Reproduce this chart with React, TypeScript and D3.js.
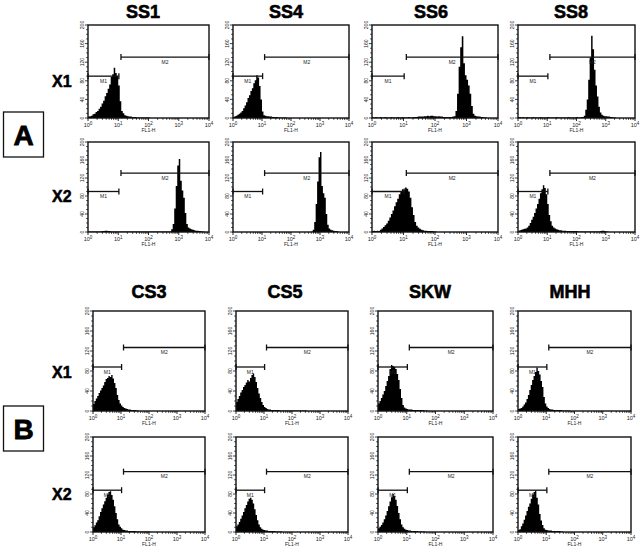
import * as d3 from 'd3'
import React from 'react'

// column titles and row labels
const topTitles = ['SS1', 'SS4', 'SS6', 'SS8']
const bottomTitles = ['CS3', 'CS5', 'SKW', 'MHH']
const rowNames = ['X1', 'X2']
const yTicks = [0, 40, 80, 120, 160, 200]
const xTickExps = [0, 1, 2, 3, 4]

// histogram channels: one bin every 0.05 decade, counts
const binStep = 0.05

const ss1X1 = [3, 4, 5, 8, 9, 13, 15, 20, 24, 31, 37, 47, 54, 63, 72, 88, 94, 108, 97, 90, 70, 36, 15, 10, 6, 5, 4, 3, 3, 2, 2, 2, 1, 1, 1, 1, 1, 1, 1, 1, 1]
const ss4X1 = [2, 4, 5, 7, 9, 12, 15, 21, 27, 34, 43, 49, 58, 64, 75, 81, 92, 87, 69, 40, 14, 6, 5, 4, 4, 3, 3, 2, 2, 2, 2, 1, 1, 1, 1, 1, 1]
const ss6X1 = [2, 1, 2, 1, 1, 2, 1, 1, 2, 1, 1, 1, 2, 1, 1, 1, 2, 1, 1, 2, 1, 1, 1, 2, 1, 1, 2, 2, 2, 3, 3, 3,
  3, 4, 4, 5, 4, 5, 5, 4, 4, 3, 4, 3, 3, 2, 2, 2, 2, 2, 2, 3,
  4, 15, 52, 110, 152, 176, 118, 92, 82, 70, 52, 26, 9, 5, 4, 3, 3, 2, 2, 1, 1]
const ss8X1 = [2, 2, 1, 2, 1, 1, 2, 1, 1, 1, 2, 1, 1, 1, 1, 2, 1, 1, 1, 1, 2, 1, 1, 1, 1, 1, 2, 1, 1, 1, 1, 1, 1, 1, 2, 1, 1, 1, 1, 1, 2, 1, 1, 2, 2,
  5, 18, 40, 82, 130, 177, 148, 104, 70, 46, 24, 12, 7, 5, 4, 4, 3, 3, 2, 2, 1, 1]
const ss1X2 = [1, 1, 1, 1, 1, 1, 1, 1, 1, 2, 2, 3, 3, 2, 2, 1, 1, 1, 1, 1, 1, 1, 1, 1, 1, 1, 1, 1, 1, 1, 1, 1, 1, 1, 1, 1, 1, 1, 1, 1, 1, 1, 1, 1, 1, 1, 1, 1, 1, 1, 1, 1, 1, 1, 1,
  6, 18, 52, 102, 148, 162, 114, 92, 76, 42, 18, 10, 8, 6, 5, 4, 3, 3, 2, 2, 1, 1]
const ss4X2 = [1, 5, 22, 62, 112, 166, 178, 102, 86, 76, 40, 16, 8, 5, 4, 3, 2, 2, 1]
const ss6X2 = [2, 3, 2, 3, 2, 5, 8, 11, 15, 19, 25, 32, 40, 48, 57, 66, 74, 84, 90, 95, 93, 99, 96, 90, 76, 55, 38, 22, 14, 10, 7, 5, 4, 3, 3, 2, 2, 2, 2, 1, 1]
const ss8X2 = [3, 4, 5, 6, 7, 8, 10, 14, 20, 27, 34, 42, 52, 62, 74, 86, 95, 104, 98, 84, 62, 38, 24, 14, 10, 8, 6, 5, 4, 4, 3, 3, 3, 2, 2, 2, 2, 2, 2, 2, 2,
  1, 1, 1, 1, 1, 1, 1, 1, 1, 1, 1, 1, 1, 1, 1, 2, 3, 3, 2, 1, 1]

const cs3X1 = [14, 20, 25, 30, 36, 41, 46, 51, 58, 64, 66, 70, 68, 72, 65, 56, 46, 32, 22, 15, 11, 8, 6, 5, 4, 3, 3, 2, 2, 2, 2, 1, 1]
const cs5X1 = [18, 24, 30, 37, 42, 48, 52, 57, 62, 59, 66, 72, 75, 68, 58, 46, 35, 26, 18, 12, 8, 6, 4, 3, 3, 2, 2, 2, 2, 2, 2, 1, 1, 1, 1, 1, 1, 1, 1, 1, 1, 1, 1, 1, 1, 1, 1, 1, 1, 1, 1]
const skwX1 = [15, 20, 26, 33, 40, 50, 60, 70, 84, 92, 90, 88, 84, 74, 62, 44, 26, 12, 7, 5, 4, 3, 3, 3, 2, 2, 2, 2, 2, 2, 2, 2, 1, 1, 1]
const mhhX1 = [4, 5, 6, 9, 13, 17, 24, 32, 42, 52, 62, 70, 78, 87, 80, 73, 60, 48, 28, 15, 9, 6, 4, 3, 3, 2, 2, 2, 2, 2, 2, 1, 1, 1, 1, 1, 1]
const cs3X2 = [10, 14, 20, 25, 33, 42, 50, 58, 65, 72, 79, 84, 86, 78, 68, 54, 40, 27, 16, 11, 8, 5, 4, 3, 3, 2, 2, 2, 2, 2, 2, 1, 1, 1, 1, 1, 1, 1, 1, 1, 1]
const cs5X2 = [12, 16, 21, 28, 35, 42, 50, 57, 64, 70, 72, 68, 60, 48, 36, 25, 16, 10, 7, 5, 4, 3, 3, 2, 2, 2, 2, 2, 1, 1, 1, 1, 1]
const skwX2 = [8, 11, 15, 20, 27, 35, 44, 54, 64, 73, 80, 76, 68, 55, 40, 27, 16, 10, 7, 5, 4, 3, 3, 2, 2, 2, 2, 2, 1, 1, 1, 1, 1]
const mhhX2 = [4, 6, 12, 18, 26, 35, 44, 53, 60, 70, 79, 84, 87, 72, 58, 38, 24, 15, 8, 5, 4, 3, 3, 3, 2, 2, 2, 2, 2, 2, 1, 1]

const histA = [[ss1X1, ss4X1, ss6X1, ss8X1], [ss1X2, ss4X2, ss6X2, ss8X2]]
const firstBinA = [[0, 0, 0, 0], [0, 54, 0, 0]]
const histB = [[cs3X1, cs5X1, skwX1, mhhX1], [cs3X2, cs5X2, skwX2, mhhX2]]
const firstBinB = [[0, 0, 0, 0], [0, 0, 0, 0]]

// gates (FL1-H range) and the count level they are drawn at
const m1Range = [1, 10.5]
const m2Range = [12.3, 10000]
const gateLevelA = [90, 131]
const gateLevelB = [88, 127]

// layout
const colsA = [[88, 209], [233, 349], [372, 498], [518, 635]]
const rowsA = [[25, 118], [142, 232]]
const colsB = [[93, 205], [236, 348], [378, 493], [518, 631]]
const rowsB = [[311, 411], [437, 532]]
const titleXA = [143, 286, 431, 571]
const titleXB = [149, 285, 430, 570]

const font = "'Liberation Sans', Arial, Helvetica, sans-serif"

function Panel(props: any) {
  const { left, right, top, bottom, counts, first, levels } = props
  const x = d3.scaleLog().domain([1, 10000]).range([left, right])
  const y = d3.scaleLinear().domain([0, 200]).range([bottom, top])

  const pts: [number, number][] = counts.map((c: number, i: number) => [Math.pow(10, (first + i) * binStep), c])
  pts.push([Math.pow(10, (first + counts.length) * binStep), 0])
  const area = d3.area<[number, number]>()
    .x(d => x(d[0]))
    .y0(bottom)
    .y1(d => y(d[1]))
    .curve(d3.curveStepAfter)

  const minorY = d3.range(0, 201, 10)
  const minorX: number[] = []
  for (let e = 0; e < 4; e++) for (let k = 2; k < 10; k++) minorX.push(k * Math.pow(10, e))

  const gates = [
    { r: m1Range, h: levels[0], name: 'M1' },
    { r: m2Range, h: levels[1], name: 'M2' },
  ]

  return (
    <g>
      <path d={area(pts) || ''} fill="#000" />
      <rect x={left} y={top} width={right - left} height={bottom - top} fill="none" stroke="#111" strokeWidth={1.4} />
      {minorY.map(v => (
        <line key={'y' + v} x1={left} x2={left - (v % 40 === 0 ? 3 : 1.8)} y1={y(v)} y2={y(v)} stroke="#111" strokeWidth={0.8} />
      ))}
      {minorX.map(v => (
        <line key={'x' + v} x1={x(v)} x2={x(v)} y1={bottom} y2={bottom + 1.8} stroke="#111" strokeWidth={0.8} />
      ))}
      {xTickExps.map(e => (
        <line key={'X' + e} x1={x(Math.pow(10, e))} x2={x(Math.pow(10, e))} y1={bottom} y2={bottom + 3} stroke="#111" strokeWidth={0.9} />
      ))}
      {yTicks.map(v => (
        <text key={'yl' + v} transform={`translate(${left - 4},${y(v)}) rotate(-90)`} textAnchor="middle"
          fontSize={5} fontFamily={font} fill="#222">{v}</text>
      ))}
      {xTickExps.map(e => (
        <text key={'xl' + e} x={x(Math.pow(10, e))} y={bottom + 9} textAnchor="middle" fontSize={5.5} fontFamily={font} fill="#222">
          10<tspan fontSize={4.5} dy={-2.5}>{e}</tspan>
        </text>
      ))}
      <text x={x(100)} y={bottom + 14} textAnchor="middle" fontSize={5} fontFamily={font} fill="#222">FL1-H</text>
      {gates.map(g => {
        const xa = x(g.r[0]), xb = x(g.r[1]), yy = y(g.h)
        return (
          <g key={g.name}>
            <line x1={xa} x2={xb} y1={yy} y2={yy} stroke="#111" strokeWidth={1.3} />
            <line x1={xa} x2={xa} y1={yy - 3} y2={yy + 3} stroke="#111" strokeWidth={1.3} />
            <line x1={xb} x2={xb} y1={yy - 3} y2={yy + 3} stroke="#111" strokeWidth={1.3} />
            <text x={(xa + xb) / 2} y={yy + 6.5} textAnchor="middle" fontSize={5} fontFamily={font} fill="#222">{g.name}</text>
          </g>
        )
      })}
    </g>
  )
}

function Block(props: any) {
  const { cols, rows, hist, firstBin, levels, titles, titleX, titleY, rowLabelY, boxY, letter } = props
  return (
    <g>
      {titles.map((t: string, i: number) => (
        <text key={t} x={titleX[i]} y={titleY} textAnchor="middle" fontSize={18} fontWeight="bold" fontFamily={font}
          stroke="#000" strokeWidth={0.6}>{t}</text>
      ))}
      {rowNames.map((n, r) => (
        <text key={n} x={52} y={rowLabelY[r]} fontSize={16} fontWeight="bold" fontFamily={font}
          stroke="#000" strokeWidth={0.5}>{n}</text>
      ))}
      <rect x={3.5} y={boxY} width={40} height={45} fill="none" stroke="#111" strokeWidth={1.3} />
      <text x={23.5} y={boxY + 33} textAnchor="middle" fontSize={28} fontWeight="bold" fontFamily={font}
        stroke="#000" strokeWidth={0.8}>{letter}</text>
      {rows.map((row: number[], r: number) => cols.map((col: number[], c: number) => (
        <Panel key={r + '-' + c} left={col[0]} right={col[1]} top={row[0]} bottom={row[1]}
          counts={hist[r][c]} first={firstBin[r][c]} levels={levels} />
      )))}
    </g>
  )
}

export default function App() {
  return (
    <svg width={640} height={551} viewBox="0 0 640 551"
      style={{ position: 'absolute', left: 0, top: 0, background: '#fff' }}>
      <rect width={640} height={551} fill="#fff" />
      <Block cols={colsA} rows={rowsA} hist={histA} firstBin={firstBinA} levels={gateLevelA}
        titles={topTitles} titleX={titleXA} titleY={18} rowLabelY={[87, 202]} boxY={112} letter="A" />
      <Block cols={colsB} rows={rowsB} hist={histB} firstBin={firstBinB} levels={gateLevelB}
        titles={bottomTitles} titleX={titleXB} titleY={298} rowLabelY={[378, 500]} boxY={406} letter="B" />
    </svg>
  )
}
